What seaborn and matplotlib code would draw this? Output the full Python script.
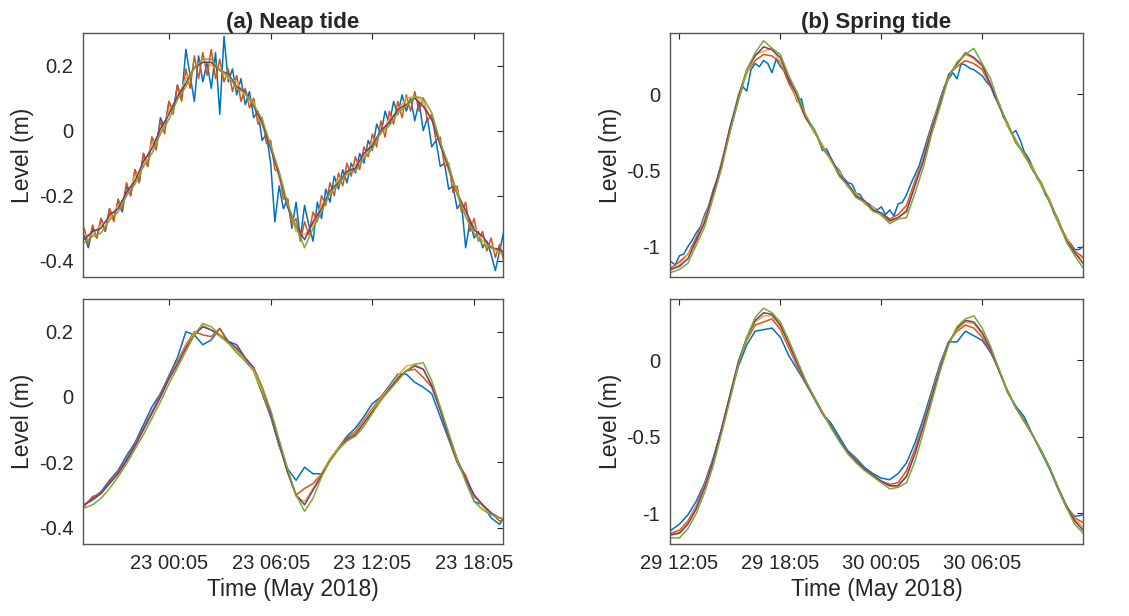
import pandas as pd
import matplotlib
matplotlib.use("Agg")
import matplotlib.pyplot as plt
import matplotlib.dates as mdates
import seaborn as sns

# five records, MATLAB default colour order
series = ["s1", "s2", "s3", "s4", "s5"]
colors = ["#0072BD", "#D95319", "#EDB120", "#7E2F8E", "#77AC30"]

# time grids (15 min for the raw noisy records, 30 min otherwise)
neap_t_fine = pd.date_range("2018-05-22 19:05", periods=101, freq="15min")
neap_t = pd.date_range("2018-05-22 19:05", periods=51, freq="30min")
spring_t_fine = pd.date_range("2018-05-29 11:35", periods=101, freq="15min")
spring_t = pd.date_range("2018-05-29 11:35", periods=51, freq="30min")

# ---- (a) neap tide, raw ----
neap_raw_s1 = [-0.32, -0.36, -0.30, -0.33, -0.27, -0.31, -0.24, -0.27, -0.22, -0.25,
               -0.17, -0.20, -0.12, -0.16, -0.07, -0.11, -0.02, -0.05, 0.04, 0.01,
               0.09, 0.06, 0.14, 0.10, 0.25, 0.17, 0.09, 0.23, 0.15, 0.21,
               0.13, 0.24, 0.05, 0.29, 0.15, 0.19, 0.11, 0.16, 0.08, 0.12,
               0.04, 0.06, -0.03, -0.01, -0.10, -0.28, -0.17, -0.24, -0.21, -0.30,
               -0.22, -0.33, -0.23, -0.29, -0.34, -0.22, -0.27, -0.18, -0.22, -0.14,
               -0.18, -0.12, -0.16, -0.10, -0.13, -0.07, -0.10, -0.03, -0.06, 0.02,
               -0.01, 0.06, 0.02, 0.09, 0.05, 0.11, 0.06, 0.10, 0.03, 0.09,
               0.00, 0.04, -0.05, -0.03, -0.11, -0.10, -0.18, -0.17, -0.24, -0.22,
               -0.36, -0.28, -0.33, -0.31, -0.36, -0.34, -0.38, -0.43, -0.37, -0.31,
               -0.33]
neap_raw_s2 = [-0.30, -0.35, -0.29, -0.33, -0.27, -0.31, -0.24, -0.28, -0.21, -0.24,
               -0.16, -0.20, -0.12, -0.16, -0.07, -0.11, -0.02, -0.06, 0.03, -0.01,
               0.09, 0.05, 0.14, 0.09, 0.19, 0.13, 0.23, 0.16, 0.24, 0.17,
               0.25, 0.16, 0.22, 0.15, 0.19, 0.12, 0.17, 0.09, 0.13, 0.07,
               0.10, 0.02, 0.04, -0.04, -0.03, -0.12, -0.13, -0.21, -0.21, -0.29,
               -0.27, -0.34, -0.28, -0.32, -0.25, -0.28, -0.20, -0.23, -0.16, -0.20,
               -0.13, -0.17, -0.10, -0.14, -0.08, -0.12, -0.05, -0.08, -0.01, -0.05,
               0.03, -0.02, 0.06, 0.02, 0.09, 0.04, 0.11, 0.06, 0.12, 0.06,
               0.10, 0.03, 0.05, -0.03, -0.02, -0.11, -0.10, -0.19, -0.17, -0.25,
               -0.22, -0.31, -0.27, -0.34, -0.31, -0.37, -0.33, -0.39, -0.35, -0.40,
               -0.37]
neap_raw_s3 = [-0.32, -0.32, -0.29, -0.27, -0.23, -0.20, -0.14, -0.11, -0.04, -0.01,
               0.06, 0.10, 0.16, 0.19, 0.22, 0.20, 0.19, 0.16, 0.15, 0.11,
               0.085, 0.015, -0.045, -0.145, -0.225, -0.31, -0.32, -0.29, -0.23, -0.195,
               -0.15, -0.135, -0.105, -0.08, -0.035, -0.01, 0.035, 0.06, 0.10, 0.105,
               0.09, 0.03, -0.035, -0.125, -0.185, -0.255, -0.295, -0.34, -0.355, -0.375,
               -0.37]
neap_raw_s4 = [-0.335, -0.31, -0.30, -0.26, -0.24, -0.19, -0.155, -0.095, -0.055, 0.005,
               0.05, 0.105, 0.145, 0.195, 0.21, 0.21, 0.185, 0.175, 0.135, 0.12,
               0.075, 0.025, -0.055, -0.135, -0.235, -0.295, -0.335, -0.28, -0.24, -0.185,
               -0.16, -0.125, -0.115, -0.07, -0.045, 0.0, 0.025, 0.065, 0.08, 0.10,
               0.075, 0.035, -0.045, -0.115, -0.195, -0.245, -0.305, -0.325, -0.36, -0.365,
               -0.385]
neap_raw_s5 = [-0.345, -0.325, -0.315, -0.275, -0.25, -0.20, -0.165, -0.11, -0.07, -0.01,
               0.035, 0.095, 0.135, 0.195, 0.22, 0.22, 0.185, 0.17, 0.13, 0.115,
               0.08, 0.035, -0.045, -0.125, -0.225, -0.295, -0.36, -0.30, -0.25, -0.19,
               -0.165, -0.13, -0.125, -0.085, -0.055, -0.005, 0.015, 0.055, 0.075, 0.105,
               0.10, 0.055, -0.035, -0.105, -0.195, -0.265, -0.315, -0.35, -0.355, -0.375,
               -0.38]

# ---- (a) neap tide, filtered ----
neap_f_s1 = [-0.33, -0.31, -0.29, -0.255, -0.225, -0.18, -0.14, -0.085, -0.03, 0.01,
             0.065, 0.12, 0.20, 0.19, 0.16, 0.175, 0.21, 0.17, 0.15, 0.115,
             0.08, 0.01, -0.06, -0.15, -0.22, -0.255, -0.215, -0.235, -0.235, -0.195,
             -0.155, -0.12, -0.095, -0.06, -0.02, 0.0, 0.035, 0.07, 0.07, 0.045,
             0.03, 0.01, -0.06, -0.13, -0.20, -0.25, -0.32, -0.33, -0.37, -0.39,
             -0.35]
neap_f_s2 = [-0.335, -0.305, -0.295, -0.26, -0.23, -0.19, -0.145, -0.095, -0.045, 0.005,
             0.06, 0.11, 0.16, 0.20, 0.19, 0.185, 0.21, 0.165, 0.145, 0.11,
             0.08, 0.015, -0.055, -0.145, -0.23, -0.30, -0.28, -0.265, -0.235, -0.19,
             -0.155, -0.125, -0.105, -0.07, -0.035, 0.0, 0.03, 0.06, 0.08, 0.085,
             0.06, 0.03, -0.04, -0.125, -0.20, -0.24, -0.305, -0.33, -0.355, -0.38,
             -0.37]
neap_f_s3 = [-0.33, -0.315, -0.295, -0.265, -0.235, -0.195, -0.15, -0.10, -0.05, 0.0,
             0.055, 0.105, 0.155, 0.195, 0.22, 0.205, 0.185, 0.165, 0.14, 0.115,
             0.08, 0.02, -0.05, -0.14, -0.23, -0.305, -0.32, -0.28, -0.235, -0.19,
             -0.155, -0.13, -0.11, -0.075, -0.04, -0.005, 0.03, 0.065, 0.095, 0.10,
             0.085, 0.035, -0.04, -0.12, -0.19, -0.25, -0.30, -0.335, -0.36, -0.37,
             -0.375]
neap_f_s4 = [-0.33, -0.315, -0.295, -0.265, -0.235, -0.195, -0.15, -0.10, -0.05, 0.0,
             0.055, 0.10, 0.15, 0.19, 0.215, 0.205, 0.19, 0.17, 0.16, 0.12,
             0.09, 0.03, -0.05, -0.14, -0.23, -0.30, -0.33, -0.285, -0.24, -0.195,
             -0.16, -0.13, -0.115, -0.08, -0.045, -0.01, 0.025, 0.055, 0.08, 0.095,
             0.085, 0.035, -0.04, -0.12, -0.19, -0.25, -0.30, -0.33, -0.355, -0.37,
             -0.38]
neap_f_s5 = [-0.34, -0.33, -0.31, -0.28, -0.245, -0.205, -0.16, -0.115, -0.065, -0.015,
             0.04, 0.09, 0.14, 0.19, 0.225, 0.215, 0.19, 0.165, 0.135, 0.11,
             0.085, 0.03, -0.04, -0.13, -0.22, -0.30, -0.35, -0.31, -0.245, -0.195,
             -0.16, -0.135, -0.12, -0.09, -0.05, -0.01, 0.02, 0.05, 0.08, 0.10,
             0.105, 0.05, -0.03, -0.11, -0.19, -0.26, -0.32, -0.345, -0.36, -0.37,
             -0.38]

# ---- (b) spring tide, raw ----
spring_raw_s1 = [-1.10, -1.12, -1.06, -1.05, -1.00, -0.96, -0.91, -0.87, -0.79, -0.73,
                 -0.63, -0.56, -0.45, -0.35, -0.25, -0.14, -0.04, 0.05, 0.02, 0.16,
                 0.20, 0.18, 0.22, 0.20, 0.14, 0.23, 0.18, 0.15, 0.08, 0.03,
                 -0.05, -0.03, -0.15, -0.20, -0.25, -0.29, -0.37, -0.36, -0.42, -0.47,
                 -0.50, -0.55, -0.58, -0.59, -0.65, -0.66, -0.71, -0.72, -0.74, -0.76,
                 -0.74, -0.79, -0.76, -0.80, -0.72, -0.71, -0.66, -0.59, -0.53, -0.47,
                 -0.38, -0.29, -0.20, -0.12, -0.03, 0.05, 0.10, 0.14, 0.10, 0.20,
                 0.19, 0.17, 0.16, 0.14, 0.12, 0.08, 0.05, -0.02, -0.06, -0.15,
                 -0.20, -0.26, -0.24, -0.30, -0.38, -0.42, -0.48, -0.55, -0.59, -0.66,
                 -0.70, -0.78, -0.84, -0.90, -0.95, -0.98, -1.02, -1.02, -1.00, -0.99,
                 -0.99]
spring_raw_s2 = [-1.14, -1.10, -1.05, -0.94, -0.82, -0.64, -0.46, -0.22, -0.03, 0.14,
                 0.22, 0.26, 0.25, 0.21, 0.07, -0.03, -0.16, -0.23, -0.36, -0.42,
                 -0.53, -0.59, -0.66, -0.70, -0.76, -0.78, -0.82, -0.79, -0.73, -0.57,
                 -0.42, -0.21, -0.05, 0.13, 0.18, 0.22, 0.20, 0.16, 0.05, -0.06,
                 -0.21, -0.30, -0.40, -0.48, -0.60, -0.69, -0.84, -0.94, -1.03, -1.07,
                 -1.07]
spring_raw_s3 = [-1.15, -1.12, -1.05, -0.97, -0.81, -0.67, -0.44, -0.24, 0.00, 0.13,
                 0.26, 0.28, 0.30, 0.21, 0.11, -0.04, -0.13, -0.25, -0.33, -0.44,
                 -0.51, -0.61, -0.65, -0.72, -0.74, -0.80, -0.84, -0.81, -0.76, -0.59,
                 -0.43, -0.22, -0.05, 0.12, 0.19, 0.26, 0.23, 0.18, 0.06, -0.06,
                 -0.21, -0.30, -0.41, -0.48, -0.60, -0.69, -0.84, -0.94, -1.05, -1.08,
                 -1.12]
spring_raw_s4 = [-1.15, -1.13, -1.08, -0.96, -0.84, -0.65, -0.46, -0.22, -0.02, 0.16,
                 0.25, 0.31, 0.29, 0.24, 0.10, -0.01, -0.15, -0.23, -0.35, -0.42,
                 -0.53, -0.59, -0.67, -0.70, -0.76, -0.78, -0.83, -0.81, -0.77, -0.60,
                 -0.44, -0.23, -0.06, 0.12, 0.20, 0.27, 0.24, 0.19, 0.06, -0.08,
                 -0.19, -0.32, -0.39, -0.50, -0.58, -0.71, -0.82, -0.96, -1.04, -1.11,
                 -1.13]
spring_raw_s5 = [-1.17, -1.15, -1.11, -0.99, -0.87, -0.68, -0.49, -0.25, -0.04, 0.16,
                 0.27, 0.35, 0.30, 0.26, 0.12, 0.01, -0.14, -0.23, -0.35, -0.43,
                 -0.54, -0.60, -0.68, -0.71, -0.77, -0.79, -0.85, -0.82, -0.81, -0.65,
                 -0.48, -0.26, -0.08, 0.11, 0.21, 0.26, 0.30, 0.20, 0.10, -0.07,
                 -0.19, -0.32, -0.39, -0.50, -0.58, -0.71, -0.82, -0.97, -1.06, -1.14,
                 -1.15]

# ---- (b) spring tide, filtered ----
spring_f_s1 = [-1.11, -1.07, -1.01, -0.92, -0.80, -0.64, -0.45, -0.24, -0.04, 0.10,
               0.19, 0.20, 0.21, 0.15, 0.03, -0.06, -0.15, -0.25, -0.35, -0.41,
               -0.50, -0.59, -0.64, -0.70, -0.74, -0.77, -0.78, -0.74, -0.67, -0.54,
               -0.38, -0.20, -0.02, 0.12, 0.12, 0.19, 0.16, 0.13, 0.05, -0.06,
               -0.21, -0.30, -0.37, -0.49, -0.60, -0.71, -0.84, -0.96, -1.02, -1.01,
               -1.00]
spring_f_s2 = [-1.13, -1.11, -1.05, -0.95, -0.81, -0.65, -0.45, -0.23, -0.02, 0.13,
               0.23, 0.25, 0.27, 0.20, 0.08, -0.04, -0.15, -0.24, -0.35, -0.43,
               -0.52, -0.60, -0.65, -0.71, -0.75, -0.79, -0.81, -0.80, -0.72, -0.58,
               -0.41, -0.22, -0.04, 0.12, 0.19, 0.23, 0.21, 0.15, 0.06, -0.07,
               -0.20, -0.31, -0.39, -0.49, -0.59, -0.70, -0.83, -0.95, -1.03, -1.06,
               -1.07]
spring_f_s3 = [-1.14, -1.12, -1.06, -0.96, -0.82, -0.66, -0.45, -0.23, -0.01, 0.14,
               0.25, 0.29, 0.29, 0.22, 0.10, -0.03, -0.14, -0.24, -0.34, -0.43,
               -0.52, -0.60, -0.66, -0.71, -0.75, -0.79, -0.82, -0.82, -0.75, -0.60,
               -0.42, -0.23, -0.04, 0.11, 0.20, 0.25, 0.24, 0.17, 0.07, -0.07,
               -0.20, -0.31, -0.40, -0.49, -0.59, -0.70, -0.83, -0.95, -1.04, -1.09,
               -1.11]
spring_f_s4 = [-1.14, -1.13, -1.07, -0.97, -0.83, -0.66, -0.45, -0.23, -0.01, 0.15,
               0.26, 0.31, 0.30, 0.23, 0.11, -0.02, -0.14, -0.24, -0.34, -0.43,
               -0.52, -0.60, -0.66, -0.71, -0.75, -0.79, -0.82, -0.82, -0.76, -0.61,
               -0.43, -0.24, -0.05, 0.11, 0.21, 0.26, 0.25, 0.18, 0.07, -0.07,
               -0.20, -0.31, -0.40, -0.49, -0.59, -0.70, -0.83, -0.95, -1.05, -1.11,
               -1.14]
spring_f_s5 = [-1.16, -1.16, -1.10, -1.00, -0.86, -0.69, -0.48, -0.26, -0.03, 0.15,
               0.28, 0.34, 0.31, 0.25, 0.13, 0.00, -0.13, -0.24, -0.34, -0.44,
               -0.53, -0.61, -0.67, -0.72, -0.76, -0.80, -0.84, -0.83, -0.80, -0.66,
               -0.47, -0.27, -0.07, 0.10, 0.22, 0.27, 0.29, 0.21, 0.09, -0.06,
               -0.20, -0.31, -0.40, -0.49, -0.59, -0.70, -0.83, -0.96, -1.07, -1.13,
               -1.15]

neap_ticks = ["2018-05-23 00:05", "2018-05-23 06:05", "2018-05-23 12:05", "2018-05-23 18:05"]
spring_ticks = ["2018-05-29 12:05", "2018-05-29 18:05", "2018-05-30 00:05", "2018-05-30 06:05"]
neap_yticks = [-0.4, -0.2, 0, 0.2]
spring_yticks = [-1, -0.5, 0]


def long_frame(times, values):
    parts = []
    for name, t, v in zip(series, times, values):
        parts.append(pd.DataFrame({"time": t, "level": v, "series": name}))
    return pd.concat(parts, ignore_index=True)


panels = [
    long_frame([neap_t_fine, neap_t_fine, neap_t, neap_t, neap_t],
               [neap_raw_s1, neap_raw_s2, neap_raw_s3, neap_raw_s4, neap_raw_s5]),
    long_frame([spring_t_fine] + [spring_t] * 4,
               [spring_raw_s1, spring_raw_s2, spring_raw_s3, spring_raw_s4, spring_raw_s5]),
    long_frame([neap_t] * 5, [neap_f_s1, neap_f_s2, neap_f_s3, neap_f_s4, neap_f_s5]),
    long_frame([spring_t] * 5, [spring_f_s1, spring_f_s2, spring_f_s3, spring_f_s4, spring_f_s5]),
]

sns.set_style("white")
plt.rcParams["font.family"] = ["Liberation Sans", "DejaVu Sans"]
plt.rcParams["axes.unicode_minus"] = False

fig = plt.figure(figsize=(11.29, 6.16), dpi=100)
boxes = [[0.0735, 0.5503, 0.372, 0.396], [0.5934, 0.5503, 0.366, 0.396],
         [0.0735, 0.1169, 0.372, 0.3977], [0.5934, 0.1169, 0.366, 0.3977]]

for i, (box, df) in enumerate(zip(boxes, panels)):
    ax = fig.add_axes(box)
    sns.lineplot(data=df, x="time", y="level", hue="series", hue_order=series,
                 palette=colors, estimator=None, linewidth=1.1, legend=False, ax=ax)
    neap = i % 2 == 0
    if neap:
        ax.set_xlim(mdates.date2num(pd.Timestamp("2018-05-22 19:01")),
                    mdates.date2num(pd.Timestamp("2018-05-23 19:47")))
        ax.set_ylim(-0.45, 0.3)
        ticks, yt = neap_ticks, neap_yticks
    else:
        ax.set_xlim(mdates.date2num(pd.Timestamp("2018-05-29 11:31")),
                    mdates.date2num(pd.Timestamp("2018-05-30 12:05")))
        ax.set_ylim(-1.2, 0.4)
        ticks, yt = spring_ticks, spring_yticks
    ax.set_xticks([mdates.date2num(pd.Timestamp(t)) for t in ticks])
    ax.set_yticks(yt)
    ax.set_yticklabels([f"{v:g}" for v in yt])
    if i >= 2:
        ax.set_xticklabels([pd.Timestamp(t).strftime("%d %H:%M") for t in ticks])
        ax.set_xlabel("Time (May 2018)", fontsize=16.5, labelpad=4)
    else:
        ax.set_xticklabels([])
        ax.set_xlabel("")
        ax.set_title("(a) Neap tide" if neap else "(b) Spring tide",
                     fontsize=16, fontweight="bold", pad=4)
    ax.set_ylabel("Level (m)", fontsize=16.5, labelpad=3)
    ax.tick_params(direction="in", length=4, width=0.8, colors="#262626",
                   labelsize=14.5, top=True, right=True, pad=7)
    for s in ax.spines.values():
        s.set_color("#555555")
        s.set_linewidth(1.0)

fig.savefig("out.png", dpi=100)
